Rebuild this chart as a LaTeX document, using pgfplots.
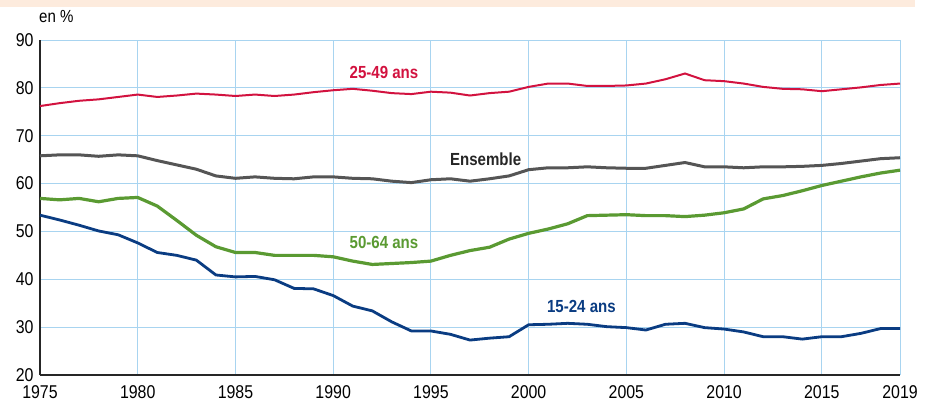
\documentclass[border=0pt]{standalone}
\usepackage{fontspec}
\setmainfont{Liberation Sans}[FakeStretch=0.86]
\usepackage{pgfplots}
\pgfplotsset{compat=1.18}
\definecolor{cred}{HTML}{D2123F}
\definecolor{cgrey}{HTML}{555555}
\definecolor{cgreen}{HTML}{5A9A32}
\definecolor{cblue}{HTML}{0A3C82}
\definecolor{cgrid}{HTML}{A8D4F0}
\definecolor{peach}{HTML}{FDEBDD}
\pgfplotstableread{
year a b c d
1975 76.2 65.8 56.9 53.4
1976 76.8 66.0 56.6 52.4
1977 77.3 66.0 56.9 51.3
1978 77.6 65.7 56.2 50.1
1979 78.1 66.0 56.9 49.3
1980 78.6 65.8 57.1 47.6
1981 78.1 64.8 55.3 45.6
1982 78.4 63.9 52.3 45.0
1983 78.8 63.0 49.2 44.0
1984 78.6 61.6 46.8 40.9
1985 78.3 61.1 45.6 40.5
1986 78.6 61.4 45.6 40.6
1987 78.3 61.1 45.0 39.9
1988 78.6 61.0 45.0 38.1
1989 79.1 61.4 45.0 38.0
1990 79.5 61.4 44.7 36.6
1991 79.8 61.1 43.8 34.4
1992 79.4 61.0 43.1 33.4
1993 78.9 60.5 43.3 31.1
1994 78.7 60.2 43.5 29.2
1995 79.2 60.8 43.8 29.2
1996 79.0 61.0 45.0 28.5
1997 78.4 60.5 46.0 27.3
1998 78.9 61.0 46.7 27.7
1999 79.2 61.6 48.4 28.0
2000 80.2 62.9 49.6 30.5
2001 80.9 63.3 50.5 30.6
2002 80.9 63.3 51.6 30.8
2003 80.4 63.5 53.3 30.6
2004 80.4 63.3 53.4 30.1
2005 80.5 63.2 53.5 29.9
2006 80.9 63.2 53.3 29.4
2007 81.8 63.8 53.3 30.6
2008 83.0 64.4 53.1 30.8
2009 81.6 63.5 53.4 29.9
2010 81.4 63.5 53.9 29.6
2011 80.9 63.3 54.7 29.0
2012 80.2 63.5 56.8 28.0
2013 79.8 63.5 57.5 28.0
2014 79.7 63.6 58.5 27.5
2015 79.3 63.8 59.6 28.0
2016 79.7 64.2 60.5 28.0
2017 80.1 64.7 61.4 28.7
2018 80.6 65.2 62.2 29.7
2019 80.9 65.4 62.8 29.7
}\data
\begin{document}
\begin{tikzpicture}
\path[use as bounding box] (0pt,0pt) rectangle (933pt,405pt);
\fill[peach] (0pt,398pt) rectangle (915pt,405pt);
\node[anchor=west,font=\fontsize{17.5}{20}\selectfont,inner sep=0pt] at (39pt,388pt) {en \%};
\begin{axis}[
  at={(40pt,30pt)}, anchor=south west,
  scale only axis, width=860pt, height=335pt,
  xmin=1975, xmax=2019, ymin=20, ymax=90,
  xtick={1975,1980,1985,1990,1995,2000,2005,2010,2015,2019},
  ytick={20,30,...,90},
  xticklabel style={/pgf/number format/1000 sep={}},
  /pgf/number format/assume math mode=true,
  tick label style={font=\fontsize{18.5}{20}\selectfont},
  xticklabel style={yshift=-7pt},
  yticklabel style={xshift=-3pt},
  major tick length=0pt,
  grid=major,
  major grid style={cgrid, line width=1pt},
  axis x line*=bottom, axis y line*=left,
  axis line style={line width=1.6pt, black!85, -},
  clip=false,
]
\addplot[cred, line width=2pt] table[x=year,y=a] {\data};
\addplot[cgrey, line width=3pt] table[x=year,y=b] {\data};
\addplot[cgreen, line width=3.2pt] table[x=year,y=c] {\data};
\addplot[cblue, line width=2.8pt] table[x=year,y=d] {\data};
\node[font=\bfseries\fontsize{17.5}{20}\selectfont, text=cred] at (axis cs:1992.6,83.2) {25-49 ans};
\node[font=\bfseries\fontsize{17.5}{20}\selectfont, text=black!85] at (axis cs:1997.8,65.1) {Ensemble};
\node[font=\bfseries\fontsize{17.5}{20}\selectfont, text=cgreen] at (axis cs:1992.6,47.6) {50-64 ans};
\node[font=\bfseries\fontsize{17.5}{20}\selectfont, text=cblue] at (axis cs:2002.7,34.4) {15-24 ans};
\end{axis}
\end{tikzpicture}
\end{document}
